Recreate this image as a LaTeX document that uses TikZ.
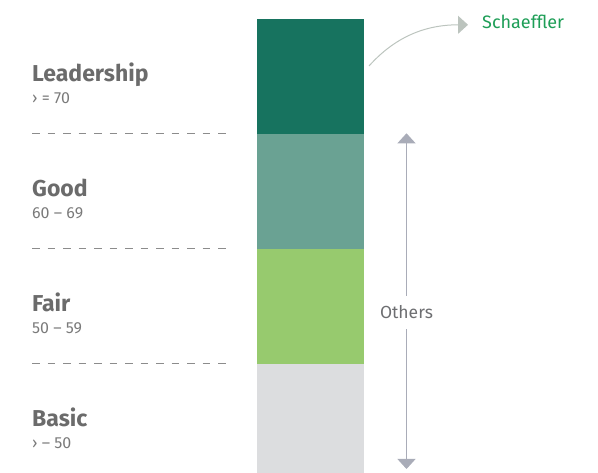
\documentclass[tikz,border=0pt]{standalone}
\usepackage{fontspec}
\setmainfont{Fira Sans}
\usetikzlibrary{arrows.meta}
\definecolor{cDark}{HTML}{17735F}
\definecolor{cMid}{HTML}{6AA293}
\definecolor{cLight}{HTML}{97CA6E}
\definecolor{cGray}{HTML}{DCDDDF}
\definecolor{cHead}{HTML}{6B6B6B}
\definecolor{cSub}{HTML}{7A7A7A}
\definecolor{cOth}{HTML}{6D6E71}
\definecolor{cDash}{HTML}{8C8C8C}
\definecolor{cArrow}{HTML}{A9ACB8}
\definecolor{cCurve}{HTML}{BCC4BE}
\definecolor{cGreen}{HTML}{1E9E57}
\begin{document}
\begin{tikzpicture}[x=1pt,y=-1pt,
  seg/.style={draw=none,inner sep=0,outer sep=0,minimum width=107.5pt},
  headlbl/.style={anchor=base west,inner sep=0,text=cHead,font=\fontsize{23}{27}\selectfont\bfseries},
  sublbl/.style={anchor=base west,inner sep=0,text=cSub,font=\fontsize{16}{19}\selectfont},
  sepline/.style={draw=cDash,line width=0.9pt,dash pattern=on 7.5pt off 8pt},
  othersarrow/.style={draw=cArrow,line width=1pt}
]
\useasboundingbox (0,0) rectangle (598,473);
% bar segments
\node[seg,fill=cDark,minimum height=115pt,anchor=north west] (lead) at (256.8,19) {};
\node[seg,fill=cMid,minimum height=115pt,anchor=north west] (good) at (256.8,134) {};
\node[seg,fill=cLight,minimum height=115pt,anchor=north west] (fair) at (256.8,249) {};
\node[seg,fill=cGray,minimum height=110pt,anchor=north west] (basic) at (256.8,364) {};
% labels
\node[headlbl] (hLead) at (32,81.7) {Leadership};
\node[sublbl] (sLead) at (32,103.5) {› = 70};
\node[headlbl] (hGood) at (32,196.7) {Good};
\node[sublbl] (sGood) at (32,219) {60 – 69};
\node[headlbl] (hFair) at (32,311.7) {Fair};
\node[sublbl] (sFair) at (32,334) {50 – 59};
\node[headlbl] (hBasic) at (32,426.5) {Basic};
\node[sublbl] (sBasic) at (32,449) {› – 50};
% separators
\coordinate (d1a) at (32,133.5); \coordinate (d1b) at (229,133.5);
\coordinate (d2a) at (32,248.5); \coordinate (d2b) at (229,248.5);
\coordinate (d3a) at (32,363.5); \coordinate (d3b) at (229,363.5);
\draw[sepline] (d1a) -- (d1b);
\draw[sepline] (d2a) -- (d2b);
\draw[sepline] (d3a) -- (d3b);
% Schaeffler
\node[anchor=base west,inner sep=0,text=cGreen,font=\fontsize{18}{21}\selectfont] (sch) at (482,28.3) {Schaeffler};
\coordinate (cStart) at (369,66);
\coordinate (cEnd) at (468,24.8);
\draw[draw=cCurve,line width=1pt,-{Triangle[width=18pt,length=10pt,color=cCurve]}] (cStart) .. controls (395,37) and (425,24.8) .. (cEnd);
% Others
\node[inner sep=0,minimum height=33pt,text=cOth,font=\fontsize{17.5}{21}\selectfont] (oth) at (406.5,312.5) {Others};
\coordinate (oTop) at (406.5,133.3);
\coordinate (oBot) at (406.5,469);
\draw[othersarrow,{Triangle[width=18pt,length=10pt,color=cArrow]}-] (oTop) -- (oth.north);
\draw[othersarrow,-{Triangle[width=18pt,length=10pt,color=cArrow]}] (oth.south) -- (oBot);
\end{tikzpicture}
\end{document}
